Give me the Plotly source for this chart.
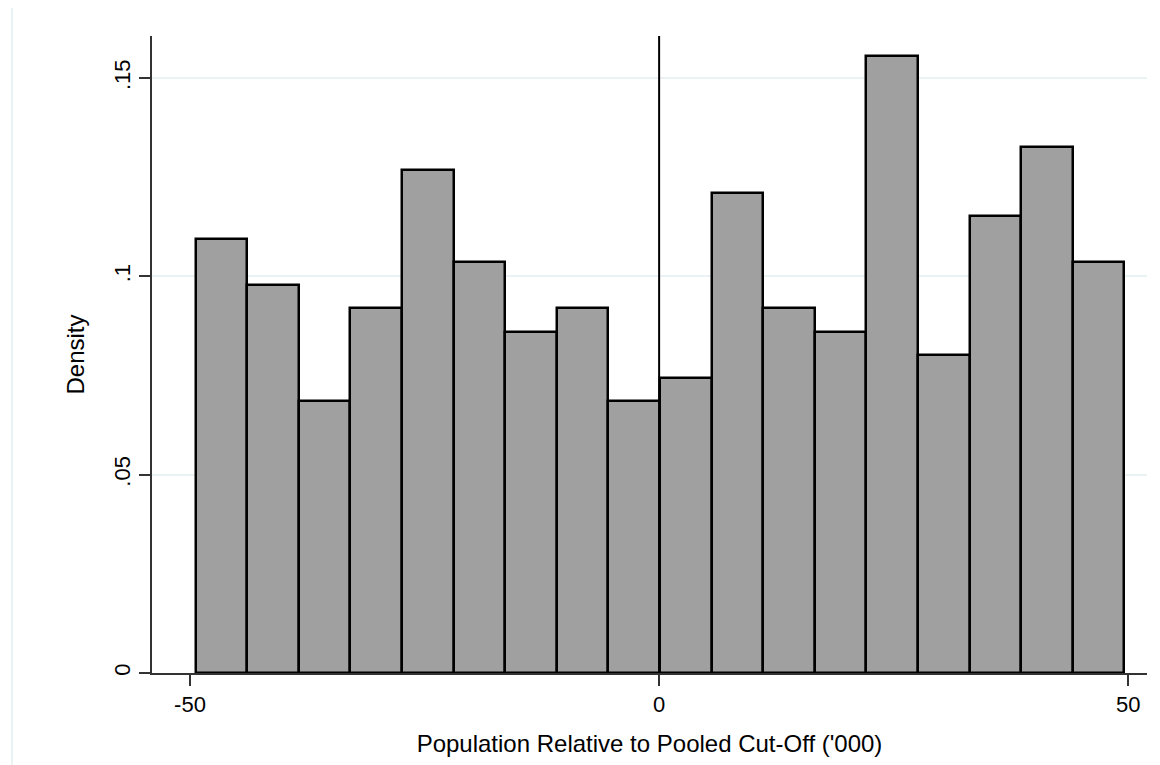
import plotly.graph_objects as go

bin_start = -49.4
bin_width = 5.5
densities = [0.1093, 0.0977, 0.0687, 0.0919, 0.1268, 0.1035, 0.0861, 0.0919, 0.0687,
             0.0745, 0.1210, 0.0919, 0.0861, 0.1556, 0.0803, 0.1152, 0.1326, 0.1035]
x_tick_vals = [-50, 0, 50]
x_tick_text = ["-50", "0", "50"]
y_tick_vals = [0, 0.05, 0.1, 0.15]
y_tick_text = ["0", ".05", ".1", ".15"]
cutoff = 0

centers = [bin_start + bin_width * (i + 0.5) for i in range(len(densities))]

fig = go.Figure()
fig.add_trace(go.Bar(
    x=centers, y=densities, width=bin_width,
    marker=dict(color="#a0a0a0", line=dict(color="#000000", width=2.5)),
    hoverinfo="x+y", showlegend=False,
))

font_family = "Liberation Sans, Arial, sans-serif"

fig.update_layout(
    width=1152, height=757,
    margin=dict(l=144, r=13, t=28, b=92),
    paper_bgcolor="white", plot_bgcolor="white",
    font=dict(family=font_family, size=22, color="#000000"),
    bargap=0,
    xaxis=dict(
        range=[-54.05, 52.0],
        tickvals=x_tick_vals, ticktext=x_tick_text,
        ticks="outside", ticklen=11, tickwidth=1.5, tickcolor="#333333",
        showline=True, linecolor="#333333", linewidth=1.5,
        showgrid=False, zeroline=False,
        title=dict(text="Population Relative to Pooled Cut-Off ('000)",
                   font=dict(size=24), standoff=19),
        tickfont=dict(size=22),
    ),
    yaxis=dict(
        range=[0, 0.1606],
        tickvals=y_tick_vals, ticktext=y_tick_text,
        tickangle=-90,
        ticks="outside", ticklen=11, tickwidth=1.5, tickcolor="#333333",
        showline=True, linecolor="#333333", linewidth=1.5,
        showgrid=True, gridcolor="#eaf2f3", gridwidth=2,
        zeroline=False,
        title=dict(text="Density", font=dict(size=24), standoff=19),
        tickfont=dict(size=22),
    ),
    shapes=[
        dict(type="line", xref="x", yref="paper", x0=cutoff, x1=cutoff, y0=0, y1=1,
             line=dict(color="#000000", width=2), layer="above"),
        dict(type="rect", xref="paper", yref="paper",
             x0=-0.1407, x1=1.2, y0=-0.3, y1=1.047,
             line=dict(color="#eaf2f3", width=2), fillcolor="rgba(0,0,0,0)", layer="below"),
    ],
)

fig.write_html("out.html")
